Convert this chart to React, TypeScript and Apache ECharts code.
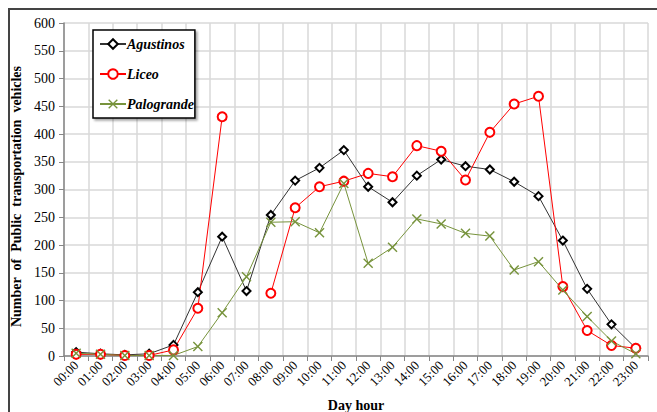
import React, { useEffect, useRef } from "react";
import * as echarts from "echarts";

const hours = ["00:00","01:00","02:00","03:00","04:00","05:00","06:00","07:00","08:00","09:00","10:00","11:00","12:00","13:00","14:00","15:00","16:00","17:00","18:00","19:00","20:00","21:00","22:00","23:00"];
const agustinos = [7, 4, 2, 4, 20, 115, 215, 117, 254, 316, 339, 371, 305, 277, 325, 354, 342, 336, 314, 288, 208, 121, 57, 14];
const liceo = [3, 3, 1, 1, 11, 86, 431, null, 113, 267, 305, 315, 329, 323, 379, 369, 317, 403, 454, 468, 125, 46, 19, 14];
const palogrande = [5, 3, 1, 1, 1, 17, 78, 143, 241, 242, 222, 311, 167, 196, 247, 238, 221, 216, 155, 170, 119, 71, 27, 4];
const yTicks = { min: 0, max: 600, interval: 50 };

const SERIF = "Liberation Serif";
const X_SYMBOL = "path://M0,1L1,0L5,4L9,0L10,1L6,5L10,9L9,10L5,6L1,10L0,9L4,5Z";

export default function App() {
  const ref = useRef<HTMLDivElement>(null);
  useEffect(() => {
    document.body.style.margin = "0";
    document.body.style.overflow = "hidden";
    if (!ref.current) return;
    const chart = echarts.init(ref.current, undefined, { renderer: "svg" });
    chart.setOption({
      animation: false,
      backgroundColor: "#ffffff",
      textStyle: { fontFamily: SERIF },
      graphic: [
        { type: "line", shape: { x1: 8, y1: 9, x2: 657, y2: 9 }, style: { stroke: "#444", lineWidth: 2 } },
        { type: "line", shape: { x1: 9, y1: 8, x2: 9, y2: 412 }, style: { stroke: "#444", lineWidth: 2 } },
      ],
      grid: { left: 64, right: 9, top: 23, bottom: 56, containLabel: false, outerBoundsMode: "none" },
      legend: {
        orient: "vertical",
        left: 93,
        top: 30,
        padding: [7, 1, 7, 6],
        itemGap: 16,
        itemWidth: 26,
        itemHeight: 12,
        borderColor: "#000",
        borderWidth: 1.5,
        backgroundColor: "#fff",
        shadowColor: "rgba(0,0,0,0.35)",
        shadowBlur: 2,
        shadowOffsetX: 2,
        shadowOffsetY: 2,
        textStyle: { fontFamily: SERIF, fontSize: 14, fontWeight: "bold", fontStyle: "italic", color: "#000", padding: [0, 0, 0, -4] },
        data: ["Agustinos", "Liceo", "Palogrande"],
      },
      xAxis: {
        type: "category",
        data: hours,
        boundaryGap: true,
        name: "Day hour",
        nameLocation: "middle",
        nameGap: 42,
        nameTextStyle: { fontFamily: SERIF, fontSize: 14, fontWeight: "bold", color: "#000" },
        axisLine: { lineStyle: { color: "#868686", width: 1.5 } },
        axisTick: { show: true, length: 5, lineStyle: { color: "#868686" } },
        axisLabel: { rotate: 45, interval: 0, margin: 7, fontFamily: SERIF, fontSize: 13, color: "#000" },
        splitLine: { show: true, lineStyle: { color: "#d9d9d9", width: 1.5 } },
      },
      yAxis: {
        type: "value",
        min: yTicks.min,
        max: yTicks.max,
        interval: yTicks.interval,
        name: "Number  of  Public  transportation  vehicles",
        nameLocation: "middle",
        nameGap: 40,
        nameTextStyle: { fontFamily: SERIF, fontSize: 14, fontWeight: "bold", color: "#000", padding: [0, 14, 0, 0] },
        axisLine: { show: true, lineStyle: { color: "#868686", width: 1.5 } },
        axisTick: { show: true, length: 5, lineStyle: { color: "#868686" } },
        axisLabel: { margin: 9, fontFamily: SERIF, fontSize: 14, color: "#000" },
        splitLine: { show: true, lineStyle: { color: "#d9d9d9", width: 1.5 } },
      },
      series: [
        {
          name: "Agustinos",
          type: "line",
          data: agustinos,
          symbol: "diamond",
          symbolSize: 8,
          lineStyle: { color: "#333", width: 1 },
          itemStyle: { color: "#fff", borderColor: "#000", borderWidth: 2 },
        },
        {
          name: "Liceo",
          type: "line",
          data: liceo,
          connectNulls: false,
          symbol: "circle",
          symbolSize: 9,
          lineStyle: { color: "#ff0000", width: 1 },
          itemStyle: { color: "#fff", borderColor: "#ff0000", borderWidth: 2 },
        },
        {
          name: "Palogrande",
          type: "line",
          data: palogrande,
          symbol: X_SYMBOL,
          symbolSize: 10,
          lineStyle: { color: "#77933c", width: 1 },
          itemStyle: { color: "#77933c", borderWidth: 0 },
        },
      ],
    });
    return () => chart.dispose();
  }, []);
  return <div ref={ref} style={{ width: 657, height: 412 }} />;
}
